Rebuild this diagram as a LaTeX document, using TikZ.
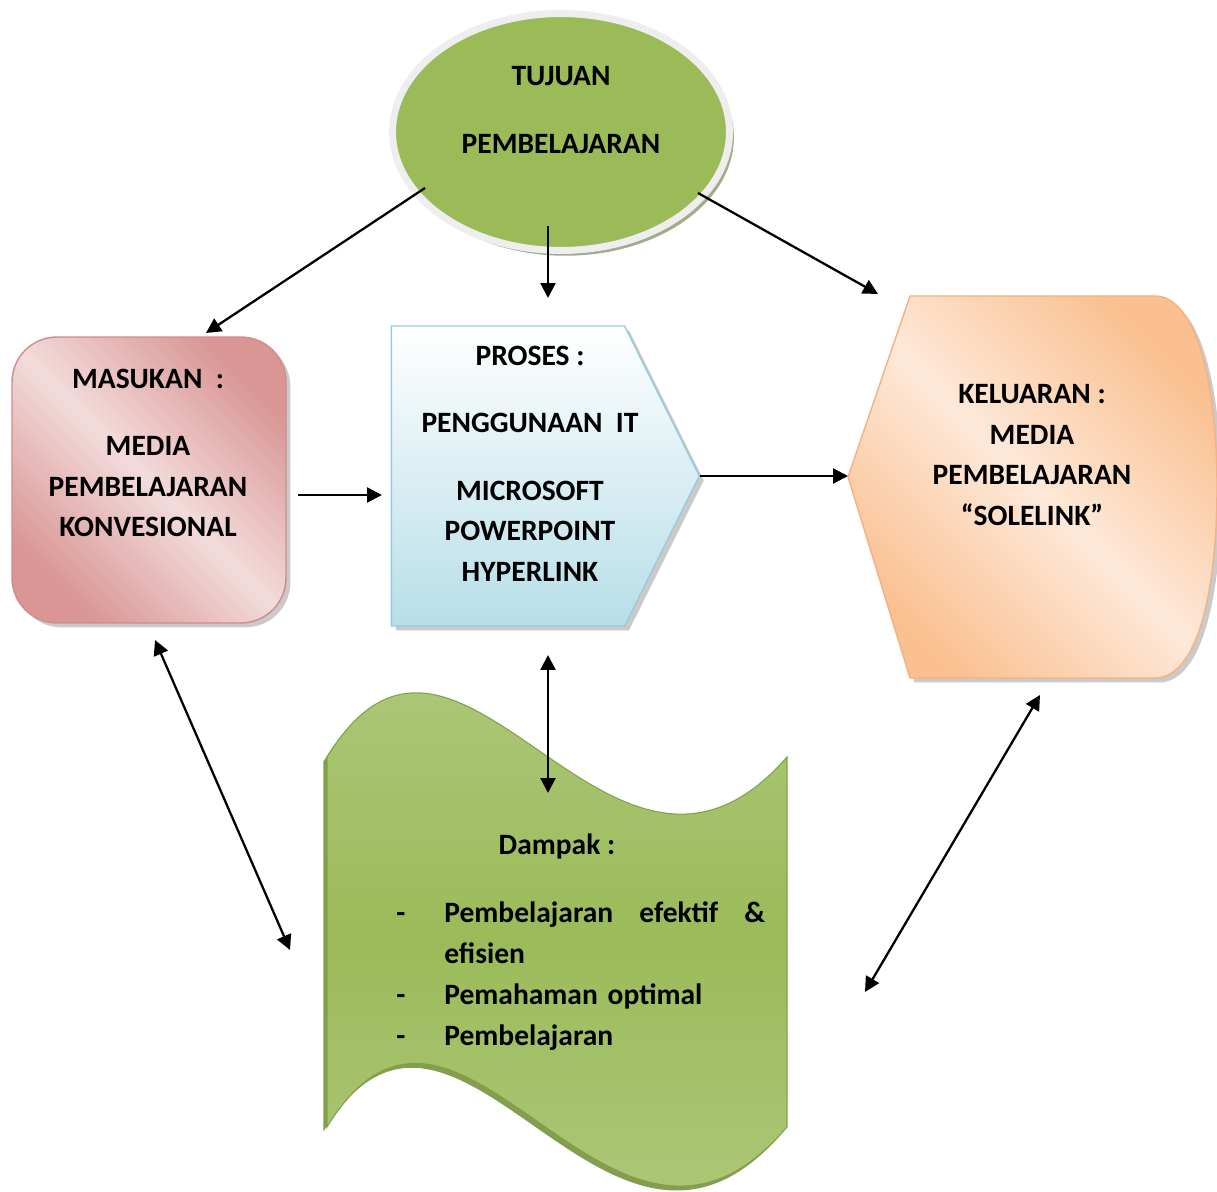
\documentclass[tikz,border=0pt]{standalone}
\usepackage{fontspec}
\setmainfont{Carlito}
\usetikzlibrary{arrows.meta, calc, positioning, shadows, shapes.geometric, shapes.symbols}
\definecolor{daungreen}{HTML}{9BBB59}
\definecolor{daunlight}{HTML}{B5CD88}
\definecolor{daundark}{HTML}{77933C}
\definecolor{rimgray}{HTML}{EEEEEE}
\definecolor{pinkdark}{HTML}{D99694}
\definecolor{pinklight}{HTML}{F2DCDB}
\definecolor{pinkedge}{HTML}{D08C8A}
\definecolor{bluelight}{HTML}{B7DEE8}
\definecolor{blueedge}{HTML}{93CDDD}
\definecolor{orangedark}{HTML}{FAC090}
\definecolor{orangelight}{HTML}{FDE9D9}
\definecolor{orangeedge}{HTML}{F4B183}
\tikzset{
>={Triangle[length=8.5pt,width=8.5pt]}, % filled arrow heads
every node/.style={inner sep=0pt},
txt/.style={align=center, font=\bfseries\fontsize{16.8}{23.2}\selectfont}, % all the labels
link/.style={line width=1.3pt}, % connectors
softshadow/.style={drop shadow={shadow xshift=2.5pt, shadow yshift=-2.5pt, fill=black!35, opacity=.6}},
}

\begin{document}
\begin{tikzpicture}[x=0.02cm, y=-0.02cm]
  \useasboundingbox (0,0) rectangle (1217,1192);

  % Tujuan ellipse ------------------------------------
  \node[ellipse, minimum width=6.74cm, minimum height=4.74cm, line width=0.14cm,
        draw=rimgray, fill=daungreen,
        drop shadow={shadow xshift=2.5pt, shadow yshift=-3pt, fill=daundark!50!gray, opacity=.7}]
        (tujuan) at (561,132) {};
  \node[txt] (tujuantxt) at (561,110) {TUJUAN\\[15pt]PEMBELAJARAN};

  % Masukan box ---------------------------------------
  \node[rectangle, rounded corners=0.9cm, minimum width=5.48cm, minimum height=5.72cm,
        draw=pinkedge, line width=0.8pt, top color=pinkdark, bottom color=pinkdark,
        middle color=pinklight, shading angle=-45, softshadow]
        (masukan) at (149,480) {};
  \node[txt] (masukantxt) at (148,453) {MASUKAN\ \ :\\[15pt]MEDIA\\PEMBELAJARAN\\KONVESIONAL};

  % Proses arrow shape --------------------------------
  \node[signal, signal to=east, signal pointer angle=127, minimum width=6.16cm, minimum height=6cm,
        draw=blueedge, line width=0.8pt, top color=white, bottom color=bluelight, softshadow]
        (proses) at (508,476) {};
  \node[txt] (prosestxt) at (530,464) {PROSES :\\[15pt]PENGGUNAAN\ \ IT\\[15pt]MICROSOFT\\POWERPOINT\\HYPERLINK};

  % Keluaran shape ------------------------------------
  \path[draw=orangeedge, line width=0.8pt, top color=orangedark, bottom color=orangedark,
        middle color=orangelight, shading angle=-45, softshadow]
    (848,477) coordinate (k-tip) -- (910,296) coordinate (k-top) -- (1155,296)
    .. controls (1195,296) and (1217,380) .. (1217,487)
    .. controls (1217,600) and (1195,678) .. (1155,678) -- (910,678) -- cycle;
  \node[txt] (keluaran) at (1032,455) {KELUARAN :\\MEDIA\\PEMBELAJARAN\\``SOLELINK''};

  % Dampak wave ---------------------------------------
  \path[draw=daungreen!85!black, line width=0.6pt, top color=daunlight, bottom color=daunlight,
        middle color=daungreen,
        drop shadow={shadow xshift=-2pt, shadow yshift=-2.5pt, fill=daundark, opacity=.9}]
    (327,757) coordinate (d-nw) .. controls (460,540) and (610,960) .. (787,757) coordinate (d-ne)
    -- (787,1127) .. controls (610,1335) and (460,910) .. (327,1127) coordinate (d-sw) -- cycle;
  \node[txt] (dampak) at (557,846) {Dampak :};
  \node[txt, align=left, text width=7.38cm, anchor=west] (dampaklist) at (396,976)
    {\makebox[0.96cm][l]{-}Pembelajaran\hfill efektif\hfill\&\\
     \hspace*{0.96cm}efisien\\
     \makebox[0.96cm][l]{-}Pemahaman optimal\\
     \makebox[0.96cm][l]{-}Pembelajaran};

  % free ends of the connectors
  \coordinate (t-left)  at (425,188);
  \coordinate (t-mid)   at (548,226);
  \coordinate (t-right) at (698,193);
  \coordinate (m-top)   at (206,333);
  \coordinate (p-top)   at (548,298);
  \coordinate (k-in)    at (878,294);
  \coordinate (m-out)   at (298,495);
  \coordinate (p-in)    at (382,495);
  \coordinate (p-low)   at (548,655);
  \coordinate (d-top)   at (548,793);
  \coordinate (m-low)   at (155,640);
  \coordinate (d-left)  at (290,950);
  \coordinate (k-low)   at (1040,695);
  \coordinate (d-right) at (865,992);

  \path[->, link]
  (t-left) edge (m-top)
  (t-mid) edge (p-top)
  (t-right) edge (k-in)
  (m-out) edge (p-in)
  (proses.east) edge (proses.east -| k-tip);

  \path[<->, link]
  (p-low) edge (d-top)
  (m-low) edge (d-left)
  (k-low) edge (d-right);
\end{tikzpicture}
\end{document}
